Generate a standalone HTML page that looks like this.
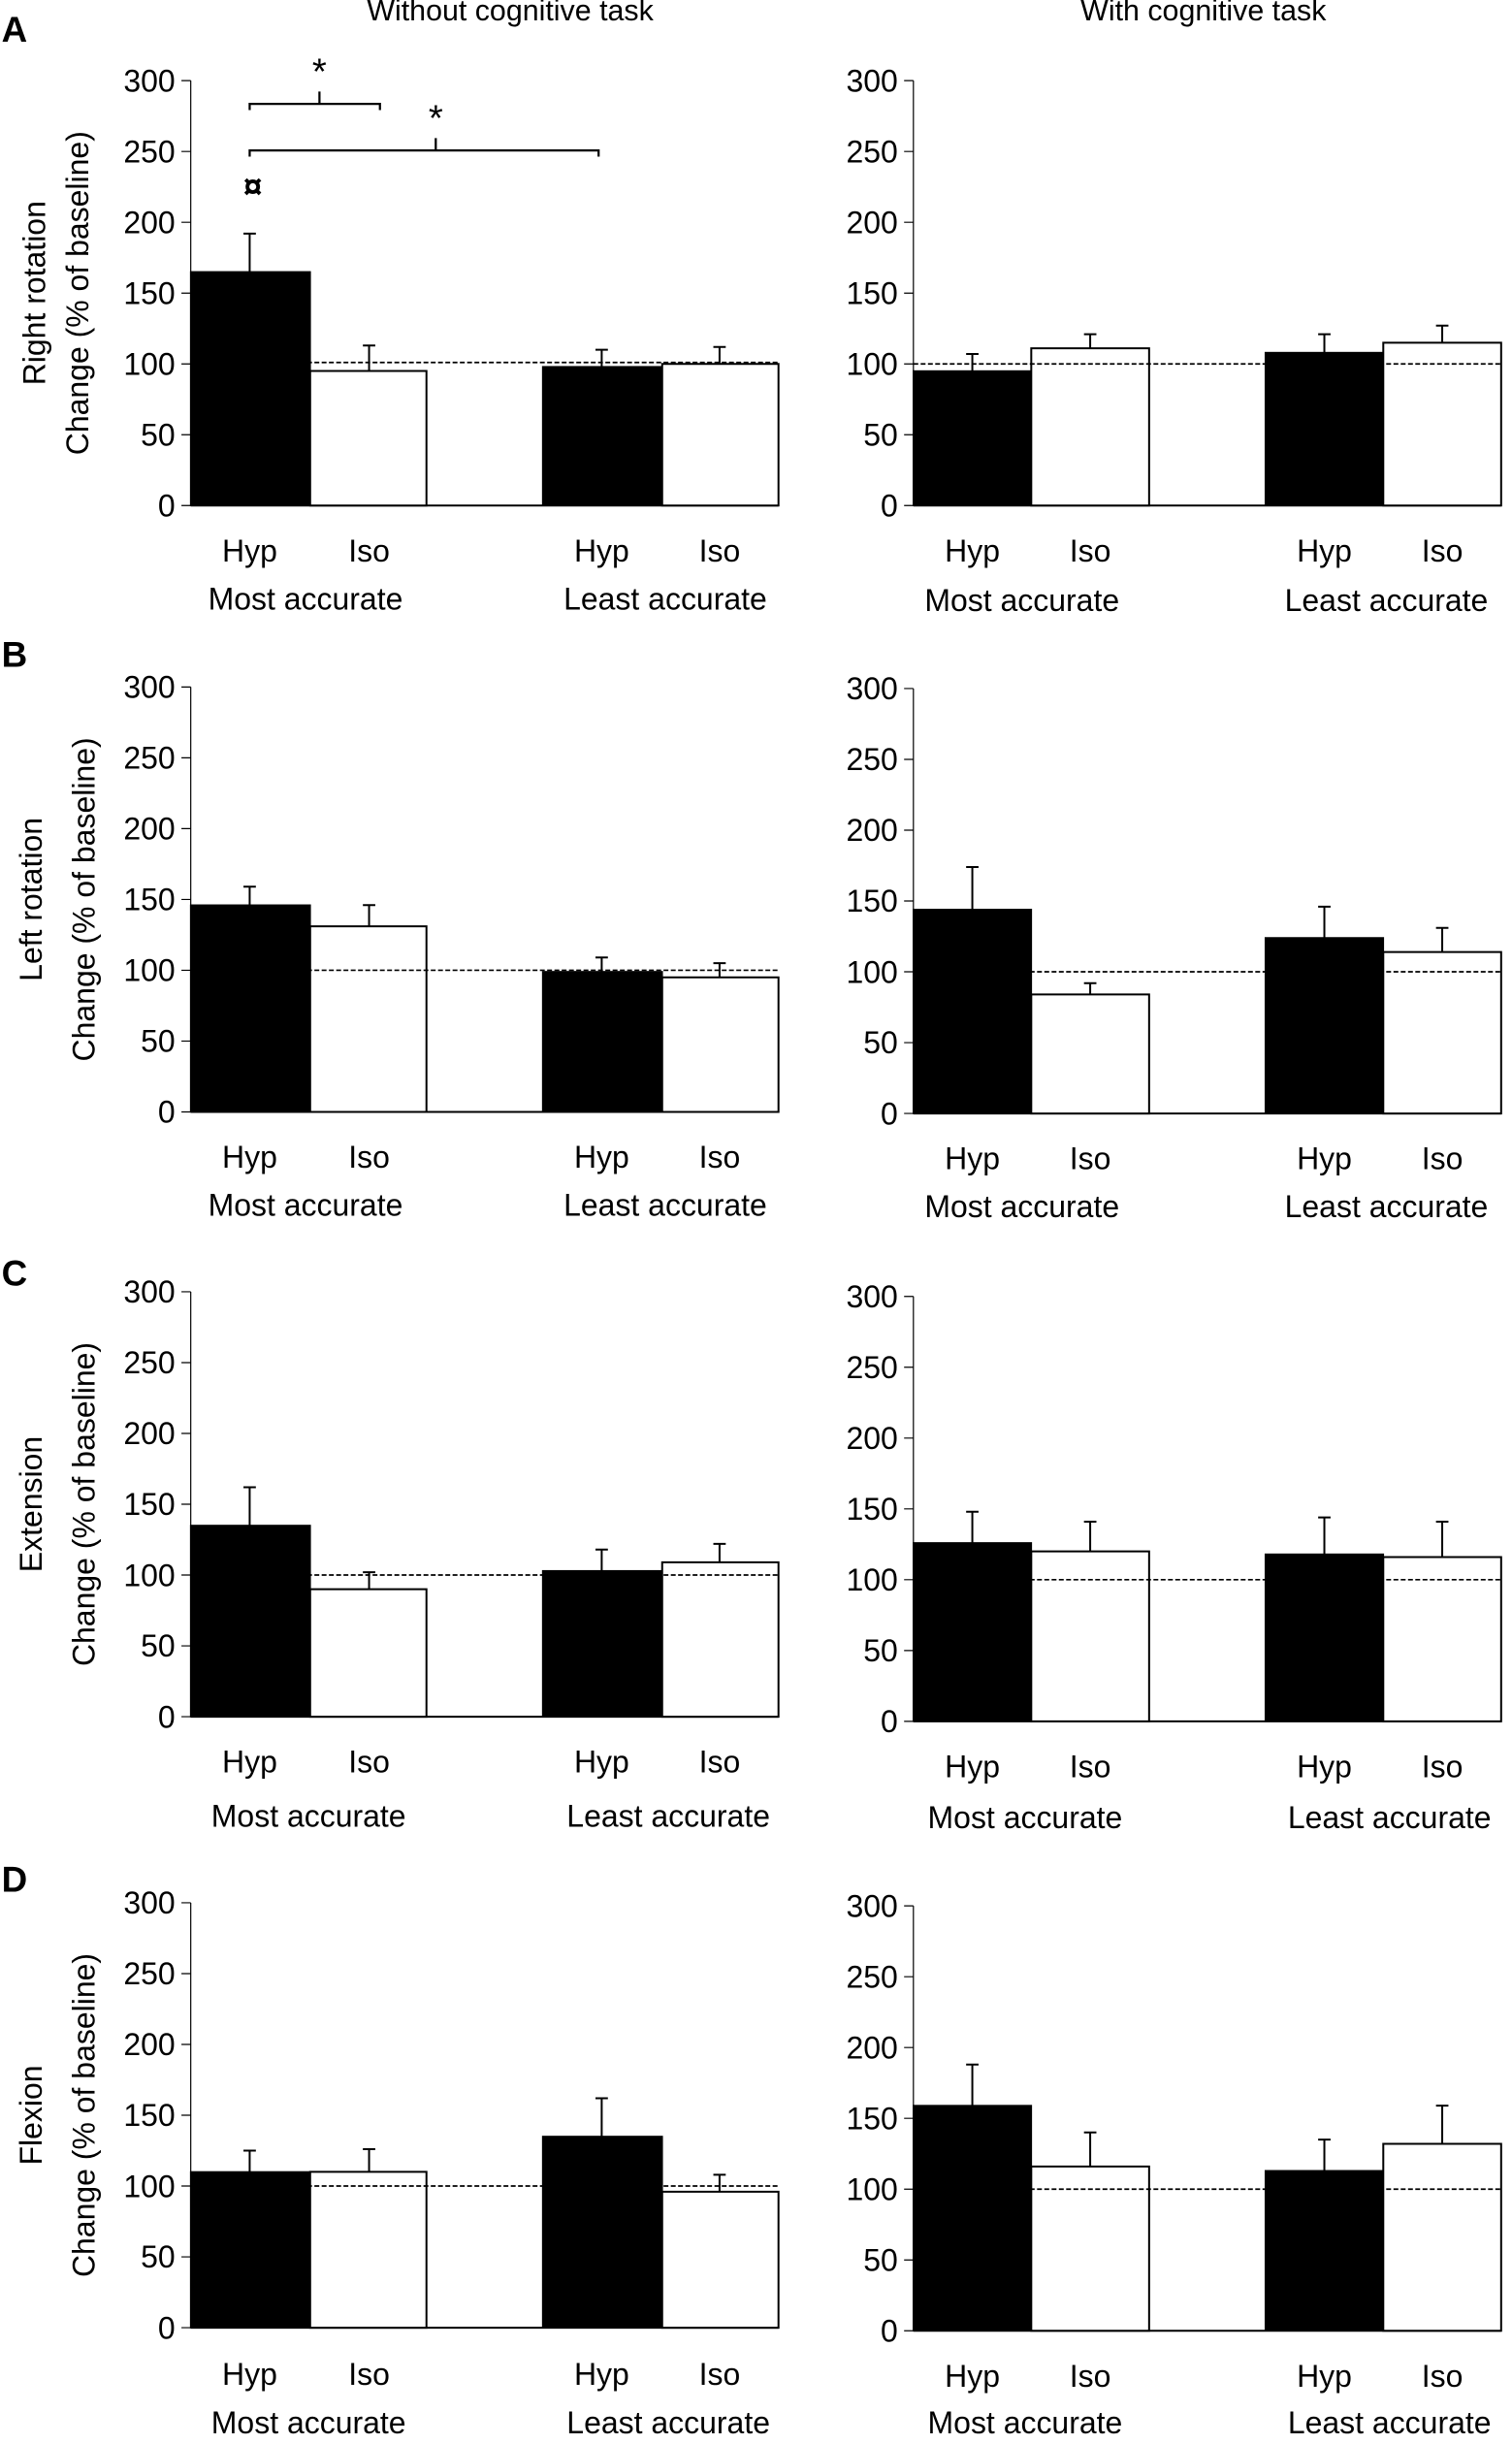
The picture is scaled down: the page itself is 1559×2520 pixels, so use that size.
<!DOCTYPE html>
<html><head><meta charset="utf-8"><style>html,body{margin:0;padding:0;background:#fff}svg{display:block}text{font-family:"Liberation Sans",sans-serif;fill:#000}</style></head><body>
<svg width="1559" height="2520" viewBox="0 0 975 1576" xmlns="http://www.w3.org/2000/svg">
<rect width="975" height="1576" fill="#fff"/>
<g font-size="19"><text x="329" y="13" text-anchor="middle">Without cognitive task</text><text x="776" y="13" text-anchor="middle">With cognitive task</text></g>
<g font-size="23" font-weight="bold"><text x="1" y="27">A</text><text x="1" y="430">B</text><text x="1" y="829">C</text><text x="1" y="1220">D</text></g>

<!-- ============ PANEL A LEFT ============ -->
<g transform="translate(0,326) scale(1,-0.91333)" stroke="#000" fill="none">
<line x1="123" y1="0" x2="123" y2="300" stroke-width="1.2" vector-effect="non-scaling-stroke"/>
<path d="M117 0H123M117 50H123M117 100H123M117 150H123M117 200H123M117 250H123M117 300H123" stroke-width="1.2" vector-effect="non-scaling-stroke"/>
<line x1="123" y1="0" x2="502" y2="0" stroke-width="2" vector-effect="non-scaling-stroke"/>
<rect x="123" y="0" width="77" height="165" fill="#000"/>
<rect x="200" y="0" width="75" height="95" fill="#fff" stroke-width="2" vector-effect="non-scaling-stroke"/>
<rect x="350" y="0" width="77" height="98" fill="#000"/>
<rect x="427" y="0" width="75" height="100" fill="#fff" stroke-width="2" vector-effect="non-scaling-stroke"/>
<path d="M161 165V192M157 192H165M238 95V113M234 113H242M388 98V110M384 110H392M464 100V112M460 112H468" stroke-width="2" vector-effect="non-scaling-stroke"/>
<line x1="123" y1="101" x2="502" y2="101" stroke-width="1.7" stroke-dasharray="5,2.5" vector-effect="non-scaling-stroke"/>
</g>
<g fill="none" stroke="#000" stroke-width="1.4"><path d="M161 71V67H245V71M206 67V59"/><path d="M161 101V97H386V101M281 97V89"/></g>
<g font-size="24"><text x="206" y="54" text-anchor="middle">*</text><text x="281" y="84" text-anchor="middle">*</text><text x="163" y="128" text-anchor="middle" font-size="22" font-weight="bold">¤</text></g>
<g transform="translate(0,326)" font-size="20">
<g text-anchor="end"><text x="113" y="7">0</text><text x="113" y="-38.7">50</text><text x="113" y="-84.3">100</text><text x="113" y="-130">150</text><text x="113" y="-175.7">200</text><text x="113" y="-221.3">250</text><text x="113" y="-267">300</text></g>
<g text-anchor="middle"><text x="161" y="36">Hyp</text><text x="238" y="36">Iso</text><text x="388" y="36">Hyp</text><text x="464" y="36">Iso</text><text x="197" y="67">Most accurate</text><text x="429" y="67">Least accurate</text>
<text transform="translate(29,-137) rotate(-90)">Right rotation</text><text transform="translate(57,-137) rotate(-90)">Change (% of baseline)</text></g>
</g>

<!-- ============ PANEL A RIGHT ============ -->
<g transform="translate(0,326) scale(1,-0.91333)" stroke="#000" fill="none">
<line x1="589" y1="0" x2="589" y2="300" stroke-width="1.2" vector-effect="non-scaling-stroke"/>
<path d="M583 0H589M583 50H589M583 100H589M583 150H589M583 200H589M583 250H589M583 300H589" stroke-width="1.2" vector-effect="non-scaling-stroke"/>
<line x1="589" y1="0" x2="968" y2="0" stroke-width="2" vector-effect="non-scaling-stroke"/>
<rect x="589" y="0" width="76" height="95" fill="#000"/>
<rect x="665" y="0" width="76" height="111" fill="#fff" stroke-width="2" vector-effect="non-scaling-stroke"/>
<rect x="816" y="0" width="76" height="108" fill="#000"/>
<rect x="892" y="0" width="76" height="115" fill="#fff" stroke-width="2" vector-effect="non-scaling-stroke"/>
<path d="M627 95V107M623 107H631M703 111V121M699 121H707M854 108V121M850 121H858M930 115V127M926 127H934" stroke-width="2" vector-effect="non-scaling-stroke"/>
<line x1="589" y1="100" x2="968" y2="100" stroke-width="1.7" stroke-dasharray="5,2.5" vector-effect="non-scaling-stroke"/>
</g>
<g transform="translate(0,326)" font-size="20">
<g text-anchor="end"><text x="579" y="7">0</text><text x="579" y="-38.7">50</text><text x="579" y="-84.3">100</text><text x="579" y="-130">150</text><text x="579" y="-175.7">200</text><text x="579" y="-221.3">250</text><text x="579" y="-267">300</text></g>
<g text-anchor="middle"><text x="627" y="36">Hyp</text><text x="703" y="36">Iso</text><text x="854" y="36">Hyp</text><text x="930" y="36">Iso</text><text x="659" y="68">Most accurate</text><text x="894" y="68">Least accurate</text></g>
</g>

<!-- ============ PANEL B LEFT ============ -->
<g transform="translate(0,717) scale(1,-0.91333)" stroke="#000" fill="none">
<line x1="123" y1="0" x2="123" y2="300" stroke-width="1.2" vector-effect="non-scaling-stroke"/>
<path d="M117 0H123M117 50H123M117 100H123M117 150H123M117 200H123M117 250H123M117 300H123" stroke-width="1.2" vector-effect="non-scaling-stroke"/>
<line x1="123" y1="0" x2="502" y2="0" stroke-width="2" vector-effect="non-scaling-stroke"/>
<rect x="123" y="0" width="77" height="146" fill="#000"/>
<rect x="200" y="0" width="75" height="131" fill="#fff" stroke-width="2" vector-effect="non-scaling-stroke"/>
<rect x="350" y="0" width="77" height="99" fill="#000"/>
<rect x="427" y="0" width="75" height="95" fill="#fff" stroke-width="2" vector-effect="non-scaling-stroke"/>
<path d="M161 146V159M157 159H165M238 131V146M234 146H242M388 99V109M384 109H392M464 95V105M460 105H468" stroke-width="2" vector-effect="non-scaling-stroke"/>
<line x1="123" y1="100" x2="502" y2="100" stroke-width="1.7" stroke-dasharray="5,2.5" vector-effect="non-scaling-stroke"/>
</g>
<g transform="translate(0,717)" font-size="20">
<g text-anchor="end"><text x="113" y="7">0</text><text x="113" y="-38.7">50</text><text x="113" y="-84.3">100</text><text x="113" y="-130">150</text><text x="113" y="-175.7">200</text><text x="113" y="-221.3">250</text><text x="113" y="-267">300</text></g>
<g text-anchor="middle"><text x="161" y="36">Hyp</text><text x="238" y="36">Iso</text><text x="388" y="36">Hyp</text><text x="464" y="36">Iso</text><text x="197" y="67">Most accurate</text><text x="429" y="67">Least accurate</text>
<text transform="translate(27,-137) rotate(-90)">Left rotation</text><text transform="translate(61,-137) rotate(-90)">Change (% of baseline)</text></g>
</g>

<!-- ============ PANEL B RIGHT ============ -->
<g transform="translate(0,718) scale(1,-0.91333)" stroke="#000" fill="none">
<line x1="589" y1="0" x2="589" y2="300" stroke-width="1.2" vector-effect="non-scaling-stroke"/>
<path d="M583 0H589M583 50H589M583 100H589M583 150H589M583 200H589M583 250H589M583 300H589" stroke-width="1.2" vector-effect="non-scaling-stroke"/>
<line x1="589" y1="0" x2="968" y2="0" stroke-width="2" vector-effect="non-scaling-stroke"/>
<rect x="589" y="0" width="76" height="144" fill="#000"/>
<rect x="665" y="0" width="76" height="84" fill="#fff" stroke-width="2" vector-effect="non-scaling-stroke"/>
<rect x="816" y="0" width="76" height="124" fill="#000"/>
<rect x="892" y="0" width="76" height="114" fill="#fff" stroke-width="2" vector-effect="non-scaling-stroke"/>
<path d="M627 144V174M623 174H631M703 84V92M699 92H707M854 124V146M850 146H858M930 114V131M926 131H934" stroke-width="2" vector-effect="non-scaling-stroke"/>
<line x1="589" y1="100" x2="968" y2="100" stroke-width="1.7" stroke-dasharray="5,2.5" vector-effect="non-scaling-stroke"/>
</g>
<g transform="translate(0,718)" font-size="20">
<g text-anchor="end"><text x="579" y="7">0</text><text x="579" y="-38.7">50</text><text x="579" y="-84.3">100</text><text x="579" y="-130">150</text><text x="579" y="-175.7">200</text><text x="579" y="-221.3">250</text><text x="579" y="-267">300</text></g>
<g text-anchor="middle"><text x="627" y="36">Hyp</text><text x="703" y="36">Iso</text><text x="854" y="36">Hyp</text><text x="930" y="36">Iso</text><text x="659" y="67">Most accurate</text><text x="894" y="67">Least accurate</text></g>
</g>

<!-- ============ PANEL C LEFT ============ -->
<g transform="translate(0,1107) scale(1,-0.91333)" stroke="#000" fill="none">
<line x1="123" y1="0" x2="123" y2="300" stroke-width="1.2" vector-effect="non-scaling-stroke"/>
<path d="M117 0H123M117 50H123M117 100H123M117 150H123M117 200H123M117 250H123M117 300H123" stroke-width="1.2" vector-effect="non-scaling-stroke"/>
<line x1="123" y1="0" x2="502" y2="0" stroke-width="2" vector-effect="non-scaling-stroke"/>
<rect x="123" y="0" width="77" height="135" fill="#000"/>
<rect x="200" y="0" width="75" height="90" fill="#fff" stroke-width="2" vector-effect="non-scaling-stroke"/>
<rect x="350" y="0" width="77" height="103" fill="#000"/>
<rect x="427" y="0" width="75" height="109" fill="#fff" stroke-width="2" vector-effect="non-scaling-stroke"/>
<path d="M161 135V162M157 162H165M238 90V102M234 102H242M388 103V118M384 118H392M464 109V122M460 122H468" stroke-width="2" vector-effect="non-scaling-stroke"/>
<line x1="123" y1="100" x2="502" y2="100" stroke-width="1.7" stroke-dasharray="5,2.5" vector-effect="non-scaling-stroke"/>
</g>
<g transform="translate(0,1107)" font-size="20">
<g text-anchor="end"><text x="113" y="7">0</text><text x="113" y="-38.7">50</text><text x="113" y="-84.3">100</text><text x="113" y="-130">150</text><text x="113" y="-175.7">200</text><text x="113" y="-221.3">250</text><text x="113" y="-267">300</text></g>
<g text-anchor="middle"><text x="161" y="36">Hyp</text><text x="238" y="36">Iso</text><text x="388" y="36">Hyp</text><text x="464" y="36">Iso</text><text x="199" y="71">Most accurate</text><text x="431" y="71">Least accurate</text>
<text transform="translate(27,-137) rotate(-90)">Extension</text><text transform="translate(61,-137) rotate(-90)">Change (% of baseline)</text></g>
</g>

<!-- ============ PANEL C RIGHT ============ -->
<g transform="translate(0,1110) scale(1,-0.91333)" stroke="#000" fill="none">
<line x1="589" y1="0" x2="589" y2="300" stroke-width="1.2" vector-effect="non-scaling-stroke"/>
<path d="M583 0H589M583 50H589M583 100H589M583 150H589M583 200H589M583 250H589M583 300H589" stroke-width="1.2" vector-effect="non-scaling-stroke"/>
<line x1="589" y1="0" x2="968" y2="0" stroke-width="2" vector-effect="non-scaling-stroke"/>
<rect x="589" y="0" width="76" height="126" fill="#000"/>
<rect x="665" y="0" width="76" height="120" fill="#fff" stroke-width="2" vector-effect="non-scaling-stroke"/>
<rect x="816" y="0" width="76" height="118" fill="#000"/>
<rect x="892" y="0" width="76" height="116" fill="#fff" stroke-width="2" vector-effect="non-scaling-stroke"/>
<path d="M627 126V148M623 148H631M703 120V141M699 141H707M854 118V144M850 144H858M930 116V141M926 141H934" stroke-width="2" vector-effect="non-scaling-stroke"/>
<line x1="589" y1="100" x2="968" y2="100" stroke-width="1.7" stroke-dasharray="5,2.5" vector-effect="non-scaling-stroke"/>
</g>
<g transform="translate(0,1110)" font-size="20">
<g text-anchor="end"><text x="579" y="7">0</text><text x="579" y="-38.7">50</text><text x="579" y="-84.3">100</text><text x="579" y="-130">150</text><text x="579" y="-175.7">200</text><text x="579" y="-221.3">250</text><text x="579" y="-267">300</text></g>
<g text-anchor="middle"><text x="627" y="36">Hyp</text><text x="703" y="36">Iso</text><text x="854" y="36">Hyp</text><text x="930" y="36">Iso</text><text x="661" y="69">Most accurate</text><text x="896" y="69">Least accurate</text></g>
</g>

<!-- ============ PANEL D LEFT ============ -->
<g transform="translate(0,1501) scale(1,-0.91333)" stroke="#000" fill="none">
<line x1="123" y1="0" x2="123" y2="300" stroke-width="1.2" vector-effect="non-scaling-stroke"/>
<path d="M117 0H123M117 50H123M117 100H123M117 150H123M117 200H123M117 250H123M117 300H123" stroke-width="1.2" vector-effect="non-scaling-stroke"/>
<line x1="123" y1="0" x2="502" y2="0" stroke-width="2" vector-effect="non-scaling-stroke"/>
<rect x="123" y="0" width="77" height="110" fill="#000"/>
<rect x="200" y="0" width="75" height="110" fill="#fff" stroke-width="2" vector-effect="non-scaling-stroke"/>
<rect x="350" y="0" width="77" height="135" fill="#000"/>
<rect x="427" y="0" width="75" height="96" fill="#fff" stroke-width="2" vector-effect="non-scaling-stroke"/>
<path d="M161 110V125M157 125H165M238 110V126M234 126H242M388 135V162M384 162H392M464 96V108M460 108H468" stroke-width="2" vector-effect="non-scaling-stroke"/>
<line x1="123" y1="100" x2="502" y2="100" stroke-width="1.7" stroke-dasharray="5,2.5" vector-effect="non-scaling-stroke"/>
</g>
<g transform="translate(0,1501)" font-size="20">
<g text-anchor="end"><text x="113" y="7">0</text><text x="113" y="-38.7">50</text><text x="113" y="-84.3">100</text><text x="113" y="-130">150</text><text x="113" y="-175.7">200</text><text x="113" y="-221.3">250</text><text x="113" y="-267">300</text></g>
<g text-anchor="middle"><text x="161" y="37">Hyp</text><text x="238" y="37">Iso</text><text x="388" y="37">Hyp</text><text x="464" y="37">Iso</text><text x="199" y="68">Most accurate</text><text x="431" y="68">Least accurate</text>
<text transform="translate(27,-137) rotate(-90)">Flexion</text><text transform="translate(61,-137) rotate(-90)">Change (% of baseline)</text></g>
</g>

<!-- ============ PANEL D RIGHT ============ -->
<g transform="translate(0,1503) scale(1,-0.91333)" stroke="#000" fill="none">
<line x1="589" y1="0" x2="589" y2="300" stroke-width="1.2" vector-effect="non-scaling-stroke"/>
<path d="M583 0H589M583 50H589M583 100H589M583 150H589M583 200H589M583 250H589M583 300H589" stroke-width="1.2" vector-effect="non-scaling-stroke"/>
<line x1="589" y1="0" x2="968" y2="0" stroke-width="2" vector-effect="non-scaling-stroke"/>
<rect x="589" y="0" width="76" height="159" fill="#000"/>
<rect x="665" y="0" width="76" height="116" fill="#fff" stroke-width="2" vector-effect="non-scaling-stroke"/>
<rect x="816" y="0" width="76" height="113" fill="#000"/>
<rect x="892" y="0" width="76" height="132" fill="#fff" stroke-width="2" vector-effect="non-scaling-stroke"/>
<path d="M627 159V188M623 188H631M703 116V140M699 140H707M854 113V135M850 135H858M930 132V159M926 159H934" stroke-width="2" vector-effect="non-scaling-stroke"/>
<line x1="589" y1="100" x2="968" y2="100" stroke-width="1.7" stroke-dasharray="5,2.5" vector-effect="non-scaling-stroke"/>
</g>
<g transform="translate(0,1503)" font-size="20">
<g text-anchor="end"><text x="579" y="7">0</text><text x="579" y="-38.7">50</text><text x="579" y="-84.3">100</text><text x="579" y="-130">150</text><text x="579" y="-175.7">200</text><text x="579" y="-221.3">250</text><text x="579" y="-267">300</text></g>
<g text-anchor="middle"><text x="627" y="36">Hyp</text><text x="703" y="36">Iso</text><text x="854" y="36">Hyp</text><text x="930" y="36">Iso</text><text x="661" y="66">Most accurate</text><text x="896" y="66">Least accurate</text></g>
</g>
</svg>
</body></html>
